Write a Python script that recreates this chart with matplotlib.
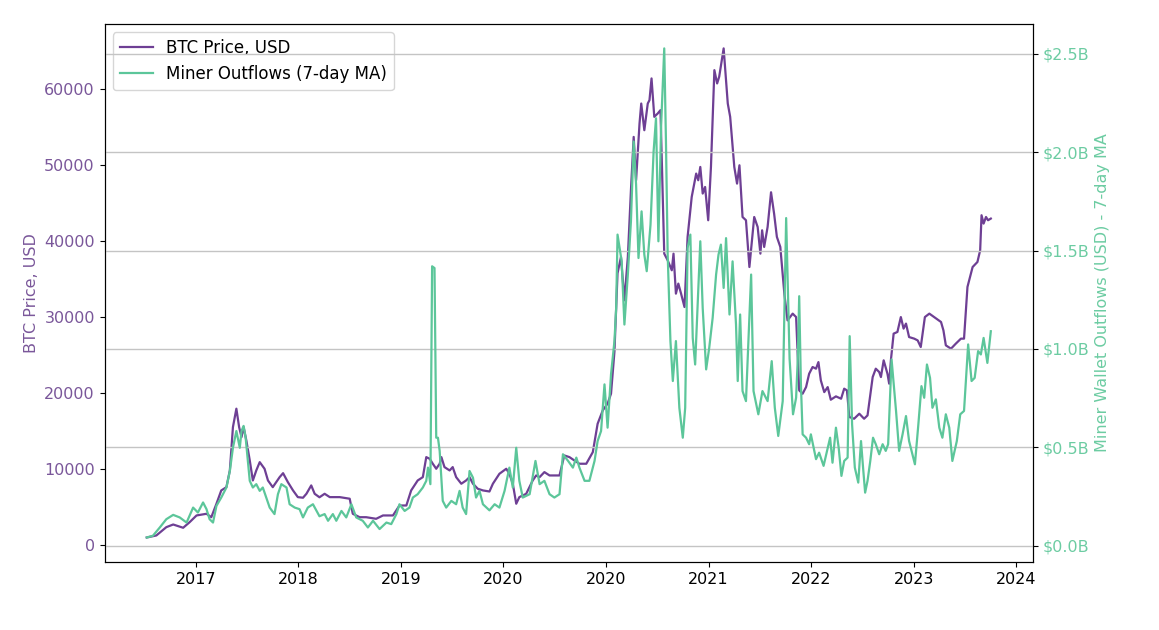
import matplotlib
matplotlib.use("Agg")
import matplotlib.pyplot as plt
import numpy as np
from matplotlib.ticker import FixedLocator, FuncFormatter

# Precio BTC (USD), dias contados desde la primera muestra
btc_days = [0, 28, 57, 77, 106, 125, 145, 174, 188, 203, 217, 232, 242, 251, 261, 269, 276, 282, 290, 300,
            309, 319, 329, 343, 353, 367, 387, 397, 411, 426, 440, 455, 465, 479, 489, 503, 518, 533, 562, 591,
            600, 620, 639, 668, 688, 717, 736, 756, 770, 789, 804, 814, 824, 833, 843, 853, 858, 867, 882, 891,
            901, 916, 930, 940, 950, 964, 979, 998, 1008, 1027, 1047, 1056, 1066, 1076, 1085, 1105, 1124, 1134,
            1144, 1158, 1173, 1202, 1216, 1231, 1245, 1260, 1280, 1299, 1313, 1328, 1342, 1352, 1362, 1371,
            1381, 1391, 1401, 1410, 1418, 1425, 1435, 1440, 1449, 1459, 1464, 1470, 1478, 1488, 1496, 1502,
            1507, 1517, 1529, 1534, 1541, 1548, 1556, 1566, 1575, 1587, 1600, 1606, 1612, 1619, 1626, 1635,
            1643, 1653, 1661, 1667, 1680, 1692, 1699, 1711, 1719, 1726, 1735, 1745, 1755, 1769, 1779, 1787,
            1792, 1798, 1808, 1818, 1827, 1835, 1845, 1857, 1866, 1881, 1891, 1900, 1910, 1920, 1929, 1939,
            1949, 1956, 1963, 1973, 1983, 1992, 2007, 2022, 2031, 2039, 2046, 2060, 2075, 2089, 2099, 2114,
            2123, 2133, 2138, 2146, 2157, 2162, 2167, 2175, 2186, 2196, 2204, 2211, 2220, 2235, 2245, 2254,
            2266, 2279, 2293, 2313, 2320, 2327, 2342, 2356, 2371, 2380, 2390, 2405, 2419, 2427, 2431, 2437,
            2444, 2450, 2458]
btc_usd = [1050, 1320, 2410, 2760, 2330, 3070, 3950, 4170, 3720, 5490, 7240, 7670, 9870, 15570, 17990, 15570,
           14250, 15570, 13820, 11190, 8550, 9870, 10960, 10090, 8550, 7670, 8990, 9510, 8330, 7240, 6360, 6280,
           6800, 7900, 6800, 6340, 6800, 6360, 6360, 6150, 4170, 3720, 3720, 3510, 3950, 3950, 5260, 5260, 7240,
           8550, 8990, 11620, 11400, 10750, 10090, 10750, 11620, 10310, 9870, 10310, 8990, 8120, 8550, 8990,
           8120, 7460, 7240, 7100, 8120, 9430, 10090, 9430, 8120, 5490, 6360, 6800, 8550, 9210, 8990, 9650,
           9210, 9210, 11840, 11620, 11190, 10750, 10750, 12280, 16010, 17770, 18650, 19960, 25500, 35800,
           37940, 32240, 37940, 46710, 53730, 48030, 55490, 58120, 54610, 58120, 58560, 61420, 56370, 56810,
           57250, 46710, 38380, 37500, 36190, 38380, 33120, 34440, 33120, 31360, 40580, 45840, 48910, 48030,
           49780, 46280, 47150, 42770, 49780, 62510, 60760, 61640, 65370, 58120, 56370, 49780, 47590, 50000,
           43200, 42770, 36620, 43200, 41890, 38380, 41450, 39260, 41890, 46450, 43610, 40580, 39260, 33000,
           29600, 30490, 30040, 20400, 19960, 20830, 22590, 23470, 23250, 24120, 21710, 20170, 20830, 19170,
           19610, 19300, 20620, 20400, 16890, 16670, 17330, 16670, 17110, 22150, 23250, 22810, 22150, 24350,
           22590, 21280, 24350, 27860, 28080, 30040, 28520, 29180, 27410, 27200, 26970, 26100, 30040, 30490,
           30040, 29390, 28290, 26320, 25880, 26540, 27200, 27200, 34000, 36620, 37280, 38820, 43430, 42330,
           43200, 42770, 42990]

# Salidas de wallets de mineros, media movil 7 dias, en miles de millones USD
flow_days = [0, 18, 38, 57, 77, 96, 116, 135, 149, 164, 174, 183, 193, 203, 217, 232, 242, 251, 261, 271, 276,
             282, 288, 300, 309, 319, 329, 338, 348, 358, 372, 382, 392, 407, 416, 431, 445, 455, 469, 484, 503,
             518, 528, 542, 552, 567, 581, 596, 610, 629, 644, 659, 678, 698, 712, 727, 736, 751, 765, 775, 789,
             804, 814, 819, 826, 831, 838, 843, 848, 853, 862, 872, 887, 901, 911, 920, 930, 940, 950, 959, 969,
             979, 998, 1013, 1027, 1042, 1056, 1066, 1076, 1085, 1095, 1115, 1132, 1144, 1158, 1173, 1187, 1202,
             1212, 1227, 1241, 1251, 1260, 1275, 1289, 1304, 1313, 1323, 1333, 1342, 1352, 1362, 1367, 1371,
             1383, 1391, 1401, 1410, 1418, 1425, 1432, 1441, 1449, 1456, 1467, 1476, 1483, 1490, 1498, 1507,
             1512, 1517, 1525, 1532, 1541, 1551, 1561, 1568, 1575, 1583, 1590, 1597, 1604, 1612, 1619, 1629,
             1638, 1648, 1658, 1665, 1672, 1680, 1687, 1697, 1706, 1716, 1721, 1728, 1735, 1745, 1760, 1767,
             1781, 1793, 1808, 1820, 1829, 1839, 1852, 1862, 1872, 1882, 1891, 1896, 1900, 1905, 1910, 1920,
             1929, 1934, 1949, 1958, 1971, 1981, 1990, 1997, 2007, 2015, 2023, 2031, 2041, 2047, 2054, 2062,
             2072, 2080, 2086, 2092, 2099, 2107, 2115, 2123, 2133, 2143, 2152, 2159, 2169, 2182, 2191, 2201,
             2211, 2220, 2237, 2247, 2256, 2264, 2272, 2281, 2288, 2298, 2308, 2317, 2327, 2337, 2346, 2359,
             2369, 2380, 2392, 2402, 2411, 2421, 2429, 2437, 2448, 2458]
flow_bn = [0.042, 0.051, 0.093, 0.135, 0.157, 0.144, 0.118, 0.194, 0.169, 0.220, 0.186, 0.135, 0.118, 0.203,
           0.245, 0.296, 0.380, 0.498, 0.583, 0.498, 0.583, 0.609, 0.549, 0.330, 0.296, 0.313, 0.279, 0.296,
           0.245, 0.194, 0.161, 0.262, 0.313, 0.296, 0.211, 0.194, 0.186, 0.144, 0.194, 0.211, 0.150, 0.161,
           0.127, 0.161, 0.127, 0.177, 0.144, 0.211, 0.144, 0.127, 0.093, 0.127, 0.085, 0.118, 0.110, 0.161,
           0.211, 0.177, 0.194, 0.245, 0.262, 0.296, 0.330, 0.397, 0.313, 1.420, 1.411, 0.549, 0.549, 0.482,
           0.228, 0.194, 0.228, 0.211, 0.279, 0.194, 0.161, 0.380, 0.346, 0.245, 0.279, 0.211, 0.180, 0.211,
           0.194, 0.279, 0.397, 0.296, 0.498, 0.330, 0.245, 0.262, 0.431, 0.313, 0.330, 0.262, 0.245, 0.262,
           0.465, 0.431, 0.397, 0.448, 0.397, 0.330, 0.330, 0.431, 0.532, 0.583, 0.820, 0.600, 0.871, 1.040,
           1.208, 1.581, 1.445, 1.124, 1.378, 1.648, 2.054, 1.834, 1.462, 1.699, 1.479, 1.395, 1.631, 2.003,
           2.172, 1.547, 2.138, 2.527, 2.054, 1.479, 1.040, 0.837, 1.040, 0.701, 0.549, 0.701, 1.513, 1.581,
           1.056, 0.921, 1.208, 1.547, 1.208, 0.896, 1.006, 1.158, 1.378, 1.479, 1.530, 1.310, 1.563, 1.175,
           1.445, 1.124, 0.837, 1.175, 0.786, 0.735, 1.378, 0.786, 0.668, 0.786, 0.735, 0.938, 0.701, 0.558,
           0.735, 1.665, 0.950, 0.668, 0.752, 0.955, 1.268, 0.820, 0.566, 0.549, 0.516, 0.566, 0.440, 0.473,
           0.406, 0.482, 0.549, 0.422, 0.600, 0.498, 0.355, 0.431, 0.448, 1.065, 0.617, 0.397, 0.321, 0.532,
           0.397, 0.270, 0.330, 0.431, 0.549, 0.516, 0.465, 0.516, 0.482, 0.516, 0.947, 0.685, 0.482, 0.566,
           0.659, 0.532, 0.414, 0.617, 0.811, 0.752, 0.921, 0.853, 0.701, 0.744, 0.600, 0.549, 0.668, 0.600,
           0.431, 0.532, 0.668, 0.685, 1.023, 0.837, 0.853, 0.989, 0.972, 1.056, 0.929, 1.090]

# Etiquetas del eje x tal como aparecen en la imagen original
year_labels = ["2017", "2018", "2019", "2020", "2020", "2021", "2022", "2023", "2024"]

color_btc = "#6e3f94"
color_flow = "#5cc69a"
fs = 11.5

fig = plt.figure(figsize=(11.59, 6.30), dpi=100)
ax1 = fig.add_axes([0.0902, 0.108, 0.8011, 0.854])
ax2 = ax1.twinx()

l1, = ax1.plot(btc_days, btc_usd, color=color_btc, lw=1.6, label="BTC Price, USD")
l2, = ax2.plot(flow_days, flow_bn, color=color_flow, lw=1.6, label="Miner Outflows (7-day MA)")

# Ticks del eje x (separacion fija, como en el original)
tick_pos = 143 + 298.6 * np.arange(len(year_labels))
ax1.xaxis.set_major_locator(FixedLocator(tick_pos))
ax1.set_xticklabels(year_labels, fontsize=fs)

ax1.set_yticks([0, 10000, 20000, 30000, 40000, 50000, 60000])
ax1.tick_params(axis="y", labelcolor="#7a579a", labelsize=fs)
ax1.set_ylabel("BTC Price, USD", color="#7a579a", fontsize=fs)

ax2.set_yticks([0, 0.5, 1.0, 1.5, 2.0, 2.5])
ax2.yaxis.set_major_formatter(FuncFormatter(lambda v, p: "${:.1f}B".format(v)))
ax2.tick_params(axis="y", labelcolor="#6ccca2", labelsize=fs)
ax2.set_ylabel("Miner Wallet Outflows (USD) - 7-day MA", color="#6ccca2", fontsize=fs)
ax2.grid(True, axis="y", color="#c4c4c4", lw=1)

ax1.legend(handles=[l1, l2], loc="upper left", fontsize=12)

fig.savefig("out.png", dpi=100)
